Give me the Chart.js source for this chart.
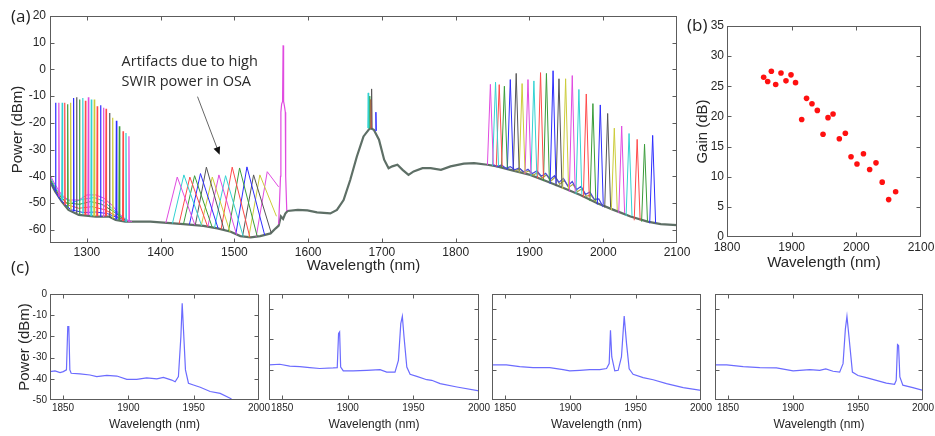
<!DOCTYPE html>
<html>
<head>
<meta charset="utf-8">
<script src="https://cdn.jsdelivr.net/npm/chart.js@4.4.0/dist/chart.umd.min.js"></script>
<style>
  body { margin: 0; background: #fff; width: 935px; height: 436px; overflow: hidden; position: relative; }
  .pane { position: absolute; }
  .tag { position: absolute; font-family: 'Open Sans', sans-serif; font-size: 17px; line-height: 17px; color: #222; }
</style>
</head>
<body>
<div class="pane" style="left:0;top:0;width:690px;height:285px"><canvas id="chartA"></canvas></div>
<div class="pane" style="left:680px;top:0;width:255px;height:280px"><canvas id="chartB"></canvas></div>
<div class="pane" style="left:0;top:280px;width:273px;height:156px"><canvas id="chartC1"></canvas></div>
<div class="pane" style="left:255px;top:280px;width:238px;height:156px"><canvas id="chartC2"></canvas></div>
<div class="pane" style="left:478px;top:280px;width:237px;height:156px"><canvas id="chartC3"></canvas></div>
<div class="pane" style="left:701px;top:280px;width:234px;height:156px"><canvas id="chartC4"></canvas></div>
<div class="tag" style="left:11px;top:7px">(a)</div>
<div class="tag" style="left:687px;top:16px">(b)</div>
<div class="tag" style="left:11px;top:258px">(c)</div>
<script>
  // ── Panel (a) data: wavelength (nm), power (dBm) ─────────────
  const aXTicks = [1300, 1400, 1500, 1600, 1700, 1800, 1900, 2000, 2100];
  const aYTicks = [-60, -50, -40, -30, -20, -10, 0, 10, 20];

  // common background spectrum
  const baseTrace = [[1250,-42],[1257,-45.7],[1266,-49.5],[1275,-52.6],[1289,-54.5],[1312,-55.1],[1330,-55.1],[1339,-56.4],
    [1352,-57],[1373,-57],[1386,-57],[1404,-57.4],[1431,-57.9],[1458,-58.6],[1477,-59.5],[1495,-60.8],[1508,-62.4],[1522,-62.9],
    [1535,-62.4],[1549,-61.4],[1556,-59.5],[1560,-58.5],[1563,-55],[1566,-56],[1569,-54],[1572,-53],[1586,-52.6],[1599,-52.8],
    [1612,-53.5],[1630,-53.9],[1639,-52.6],[1648,-48.9],[1657,-41.4],[1666,-32.6],[1675,-25.1],[1684,-21.9],[1689,-22.6],
    [1696,-26.3],[1703,-33.8],[1709,-37],[1714,-36.3],[1721,-35.7],[1728,-37.6],[1736,-39.5],[1743,-38.2],[1755,-37],[1766,-37],
    [1780,-37.6],[1793,-36.3],[1811,-35.3],[1825,-35.1],[1843,-35.7],[1856,-36.3],[1874,-37.6],[1901,-39.5],[1924,-42],
    [1947,-44.5],[1969,-47],[1992,-50.1],[2014,-52.6],[2037,-55.1],[2060,-57],[2078,-57.9],[2100,-58.3]];
  // spread of traces around 1300 nm
  const bumpTop = [[1250,-39.5],[1257,-43.2],[1266,-47],[1275,-48.9],[1289,-48.9],[1300,-47],[1312,-47],[1323,-48.2],[1334,-50.8],[1343,-53.9],[1354,-56.4],[1361,-57]];
  const bumpHigh = [[1250,-40.2],[1258,-44.5],[1268,-48],[1280,-49.8],[1295,-48.6],[1310,-48],[1322,-49.3],[1333,-51.8],[1345,-54.8],[1358,-57]];
  const bumpMid = [[1250,-41],[1260,-46],[1272,-50],[1290,-50.5],[1305,-49.5],[1320,-50.5],[1335,-53],[1350,-56],[1360,-57]];
  const bumpLow = [[1250,-40.8],[1262,-47],[1275,-50.8],[1289,-52],[1307,-51.4],[1325,-52.6],[1341,-55.1],[1356,-56.8]];
  const bumpFloor = [[1250,-41.5],[1263,-48.5],[1278,-52.5],[1295,-53.6],[1312,-53.4],[1328,-54],[1344,-55.8],[1360,-57]];
  // pump line
  const pumpTrace = [[1560,-58],[1562.5,-40],[1563,-16],[1564,-13],[1565.3,-12],[1566,9],[1566.7,-12],[1568,-14],[1569,-16],[1569.5,-40],[1571,-53]];
  // noisy traces under the signal peaks
  const noiseA = [[1850,-35.5],[1856,-36.5],[1862,-35.8],[1868,-37],[1874,-36.4],[1880,-37.6],[1886,-36.9],[1892,-38.3],[1898,-37.4],
    [1904,-39],[1910,-38],[1916,-40],[1922,-38.9],[1928,-41.2],[1934,-39.8],[1940,-42.3],[1946,-40.8],[1952,-43.6],[1958,-42],
    [1964,-45],[1970,-43.8],[1976,-46.8],[1982,-45.9],[1988,-48.7],[1994,-48.5],[2000,-51.5]];
  const noiseB = [[1880,-38],[1887,-37.2],[1893,-38.8],[1899,-38],[1905,-39.6],[1911,-38.6],[1917,-40.6],[1923,-39.5],[1929,-41.8],
    [1935,-40.3],[1941,-43],[1947,-41.5],[1953,-44.2],[1959,-43],[1965,-45.8],[1971,-44.7],[1977,-47.5],[1983,-47],[1990,-49.5]];

  // short-wave lines (1250–1360 nm)
  const leftNm = [1257.5,1262,1266.5,1270,1274,1278,1282,1286,1290,1294.5,1298,1302,1306,1310,1314,1318.5,1322.5,1326,1330.7,1335,1340,1344,1349,1353,1357];
  const leftDb = [-12.5,-12.5,-12.5,-12.5,-13,-12.5,-10.7,-10.4,-11.3,-10.7,-11.7,-10.4,-11.3,-11.3,-13.8,-13.4,-14.4,-14.7,-16.3,-18.1,-19.2,-21.3,-23.2,-23.8,-25];
  const leftBaseDb = [-45.5,-47.5,-49,-50.5,-51.5,-52.5,-53,-53.5,-54,-54,-54.5,-54.5,-55,-55,-55,-55,-55,-55,-55.2,-55.6,-56.2,-56.5,-56.8,-57,-57];
  const leftColor = ['b','m','c','r','g','y','b','k','g','c','r','m','c','y','r','b','m','r','k','y','b','g','r','c','m'];

  // OSA artifacts (1400–1560 nm)
  const artLeftNm = [1407,1416,1425,1431,1439,1447,1455,1464,1473,1482,1492,1502,1511,1519.5,1529.5];
  const artLeftDb = [-57.5,-57.7,-57.8,-57.9,-58.1,-58.3,-58.5,-58.9,-59.3,-59.8,-60.6,-61.6,-62.5,-62.8,-62.7];
  const artNm = [1422.5,1431.5,1439.6,1446,1454,1462,1470,1479,1488,1497,1507,1517,1526,1534.5,1544.5];
  const artDb = [-40.3,-39.5,-40.3,-39.8,-39,-36.6,-40.3,-39.5,-39.8,-36.6,-36.9,-36.5,-39.5,-39.5,-38.3];
  const artRightNm = [1446.5,1455.5,1463.6,1470,1478,1486,1494,1503,1512,1521,1531,1541,1550,1557,1560];
  const artRightDb = [-58.3,-58.5,-58.8,-59.2,-59.6,-60.1,-60.8,-61.9,-62.6,-62.9,-62.6,-62,-61.3,-55,-44];

  // spikes on the 1680 nm hump
  const ramanNm = [1681.4, 1683.2, 1684.6, 1686, 1691.8];
  const ramanDb = [-8.8, -10, -11.3, -7.3, -16];
  const ramanBaseDb = [-22, -22, -22, -22, -23];
  const ramanColor = ['c', 'g', 'r', 'k', 'b'];

  // SWIR signal lines (1840–2070 nm)
  const rightNm = [1847,1854,1859,1866,1874,1882,1890,1898,1906,1915,1923,1932,1940,1949,1958,1967,1977,1986,1996,2006,2015,2025,2035,2046,2056,2067];
  const rightDb = [-5.6,-4.8,-5.7,-6.3,-3.8,-1.5,-5.3,-3.8,-4.3,-1.2,-1.5,-0.5,-3.5,-3.5,-2.3,-7.5,-9.2,-12.8,-13.3,-16.5,-22,-21.2,-24,-26.2,-28,-24.7];
  const rightBaseDb = [-35.8,-36.1,-36.4,-36.9,-37.5,-38,-38.6,-39.2,-39.9,-40.8,-41.8,-42.8,-43.7,-44.8,-45.8,-46.7,-47.9,-49.3,-50.6,-51.7,-52.7,-53.8,-54.9,-56.5,-57,-57.6];

  // annotation
  const noteText = ['Artifacts due to high', 'SWIR power in OSA'];
  const noteNm = 1347;
  const noteDb = [3, -4.5];
  const arrowNm = [1450, 1480];
  const arrowDb = [-10.2, -32];

  // ── Panel (b) data: gain vs wavelength ──────────────────────
  const bXTicks = [1800, 1900, 2000, 2100];
  const bYTicks = [0, 5, 10, 15, 20, 25, 30, 35];
  const gainNm = [1856.7,1862.9,1868.6,1875.3,1883.5,1891.2,1899,1906,1915.5,1923,1931.4,1939.7,1948.5,1956.2,1964,1973.7,1983,1991.8,2001,2011,2020.6,2030.4,2040,2050,2060.8];
  const gainDb = [26.5,25.8,27.5,25.3,27.2,25.9,26.9,25.6,19.5,23,22.1,21,17.05,19.8,20.4,16.3,17.2,13.3,12.1,13.8,11.2,12.3,9.1,6.2,7.5];

  // ── Panel (c) data: four output spectra ─────────────────────
  const cXTicks = [1850, 1900, 1950, 2000];
  const c1YTicks = [-50, -40, -30, -20, -10, 0];
  const cYTicks = [-40, -30, -20];
  const c1Trace = [[1840,-36.6],[1843.8,-36.3],[1847.7,-37.1],[1850.2,-36.6],[1852.6,-35.8],[1853.6,-15.4],[1854.4,-15.4],[1855.2,-35.8],
    [1856.2,-37.4],[1863,-37.7],[1870.6,-38.2],[1875.8,-39],[1883.5,-38.4],[1891.2,-38.7],[1898.8,-40.3],[1906.4,-40.3],[1914,-39.6],
    [1921.8,-40],[1926.8,-39.3],[1933.2,-40.6],[1935.8,-41.4],[1938.3,-39],[1940.2,-20.1],[1941.2,-4.4],[1942.2,-17],[1943.7,-35.8],
    [1946,-42.1],[1949.8,-42.9],[1955,-44],[1962.6,-46],[1970.3,-46.9],[1977.9,-49.2],[1981,-50.5]];
  const c2Trace = [[1840,-38.4],[1848.2,-38.2],[1855.8,-38.8],[1863.5,-39],[1871,-39.3],[1878.7,-39.6],[1888.9,-39.4],[1892,-39.3],
    [1893,-28],[1893.8,-27.5],[1894.6,-39.1],[1896.6,-40.4],[1904.2,-40.4],[1914.4,-40.2],[1924.6,-40],[1929.7,-40.8],[1936,-40.8],
    [1938.6,-36.9],[1940.4,-24.8],[1941.6,-22.4],[1942.9,-29.3],[1945,-39.1],[1947.5,-41.5],[1952.6,-42.2],[1960.2,-43.3],[1964,-43.5],
    [1970.4,-44.6],[1983.2,-45.7],[2000,-47]];
  const c3Trace = [[1840,-38.4],[1851,-38.4],[1861.2,-39],[1871.4,-39.3],[1884.2,-39.3],[1894.4,-40],[1899.5,-40.4],[1907.2,-40.2],
    [1914.9,-40],[1922.5,-40],[1927.7,-39.6],[1929.7,-38],[1930.7,-27],[1931.7,-35.8],[1934,-40.4],[1936.6,-40.2],[1939.1,-35.8],
    [1941.2,-22.3],[1943,-31.4],[1945,-39.7],[1948,-41.5],[1955.7,-42.6],[1963.4,-43.3],[1973.6,-44.6],[1986.4,-45.9],[2000,-46.8]];
  const c4Trace = [[1840,-38.4],[1849,-38.4],[1861.7,-39],[1874.5,-39.3],[1887.3,-39.4],[1900.1,-40.4],[1912.9,-40],[1920.6,-40.2],
    [1925.2,-39.7],[1930.8,-40.5],[1935.9,-40.8],[1938.5,-38],[1940.3,-26.5],[1941.5,-22.4],[1943.1,-29.3],[1945.7,-40.8],[1950,-41.9],
    [1956.4,-42.6],[1964.1,-43.5],[1971.8,-44.4],[1978.1,-44.8],[1979.4,-43.5],[1980.4,-31.7],[1981.2,-32],[1982.2,-42.4],[1984.5,-45.1],
    [1992.2,-45.9],[2000,-46.8]];

  // ── Styles ───────────────────────────────────────────────────
  const FONT = "'Liberation Sans', Arial, sans-serif";
  const TXT = '#262626';
  const AXIS = '#5c5c5c';
  const COL = { m: '#e04be0', c: '#33d2d2', r: '#ff4a4a', g: '#3a9c3a', b: '#2d2dff', k: '#555555', y: '#cccc3a' };
  const CYCLE = ['m', 'c', 'r', 'g', 'b', 'k', 'y'];
  const LEFT_HW = 0.6, RIGHT_HW = 4, RAMAN_HW = 0.6;

  Chart.defaults.animation = false;
  Chart.defaults.devicePixelRatio = 1;

  const pts = arr => arr.map(([x, y]) => ({ x, y }));
  const spike = (nm, top, base, hw) => [{ x: nm - hw, y: base }, { x: nm, y: top }, { x: nm + hw, y: base }];
  const line = (data, color, w) => ({ data, borderColor: color, borderWidth: w || 1, pointRadius: 0, tension: 0, fill: false });

  // MATLAB-like box with inward ticks on all four sides
  const boxTicks = {
    id: 'boxTicks',
    afterDraw(chart, args, opts) {
      const { ctx, chartArea: a, scales: { x, y } } = chart;
      const len = opts.len || 4;
      const L = Math.round(a.left) + 0.5, R = Math.round(a.right) - 0.5;
      const T = Math.round(a.top) + 0.5, B = Math.round(a.bottom) - 0.5;
      ctx.save();
      ctx.strokeStyle = AXIS; ctx.lineWidth = 1;
      ctx.beginPath();
      x.ticks.forEach(t => {
        const p = Math.round(x.getPixelForValue(t.value)) + 0.5;
        if (p <= L + 1 || p >= R - 1) return;
        ctx.moveTo(p, B); ctx.lineTo(p, B - len);
        ctx.moveTo(p, T); ctx.lineTo(p, T + len);
      });
      y.ticks.forEach(t => {
        const p = Math.round(y.getPixelForValue(t.value)) + 0.5;
        if (p <= T + 1 || p >= B - 1) return;
        ctx.moveTo(L, p); ctx.lineTo(L + len, p);
        ctx.moveTo(R, p); ctx.lineTo(R - len, p);
      });
      ctx.stroke();
      ctx.strokeRect(L, T, R - L, B - T);
      ctx.restore();
    }
  };

  const noteLayer = {
    id: 'noteLayer',
    afterDatasetsDraw(chart) {
      const { ctx, scales: { x, y } } = chart;
      ctx.save();
      ctx.font = "14.5px 'Open Sans', sans-serif";
      ctx.fillStyle = '#2a2a2a'; ctx.textAlign = 'left'; ctx.textBaseline = 'middle';
      noteText.forEach((t, i) => ctx.fillText(t, x.getPixelForValue(noteNm), y.getPixelForValue(noteDb[i])));
      const x0 = x.getPixelForValue(arrowNm[0]), y0 = y.getPixelForValue(arrowDb[0]);
      const x1 = x.getPixelForValue(arrowNm[1]), y1 = y.getPixelForValue(arrowDb[1]);
      const ang = Math.atan2(y1 - y0, x1 - x0);
      ctx.strokeStyle = '#666'; ctx.lineWidth = 1;
      ctx.beginPath(); ctx.moveTo(x0, y0); ctx.lineTo(x1 - 6 * Math.cos(ang), y1 - 6 * Math.sin(ang)); ctx.stroke();
      ctx.fillStyle = '#111';
      ctx.beginPath();
      ctx.moveTo(x1, y1);
      ctx.lineTo(x1 - 8 * Math.cos(ang) + 3.5 * Math.sin(ang), y1 - 8 * Math.sin(ang) - 3.5 * Math.cos(ang));
      ctx.lineTo(x1 - 8 * Math.cos(ang) - 3.5 * Math.sin(ang), y1 - 8 * Math.sin(ang) + 3.5 * Math.cos(ang));
      ctx.closePath(); ctx.fill();
      ctx.restore();
    }
  };

  function xAxis(min, max, ticks, o) {
    return {
      type: 'linear', min, max,
      grid: { display: false, drawTicks: false }, border: { display: false },
      afterBuildTicks: s => { s.ticks = ticks.map(v => ({ value: v })); },
      afterFit: s => { s.height = o.h; s.paddingLeft = 0; s.paddingRight = 0; },
      ticks: { display: o.labels !== false, autoSkip: false, maxRotation: 0, padding: o.pad, color: TXT,
               font: { family: FONT, size: o.size }, callback: v => String(v) },
      title: { display: true, text: 'Wavelength (nm)', color: TXT, font: { family: FONT, size: o.tsize },
               padding: { top: 0, bottom: o.tpad } }
    };
  }
  function yAxis(min, max, ticks, o) {
    return {
      type: 'linear', min, max,
      grid: { display: false, drawTicks: false }, border: { display: false },
      afterBuildTicks: s => { s.ticks = ticks.map(v => ({ value: v })); },
      afterFit: s => { s.width = o.w; s.paddingTop = 0; s.paddingBottom = 0; },
      ticks: { display: o.labels !== false, autoSkip: false, padding: o.pad, color: TXT,
               font: { family: FONT, size: o.size }, callback: v => String(v) },
      title: { display: !!o.title, text: o.title || '', color: TXT, font: { family: FONT, size: o.tsize },
               padding: { top: o.tpad, bottom: 0 } }
    };
  }
  const baseOpts = (padding) => ({
    responsive: true, maintainAspectRatio: false, animation: false,
    layout: { padding },
    plugins: { legend: { display: false }, tooltip: { enabled: false }, boxTicks: { len: 4 } }
  });

  // ── Chart (a) ────────────────────────────────────────────────
  const dsA = [];
  dsA.push(line(pts(pumpTrace), COL.m, 1.2));
  ramanNm.forEach((nm, i) => dsA.push(line(spike(nm, ramanDb[i], ramanBaseDb[i], RAMAN_HW), COL[ramanColor[i]])));
  rightNm.forEach((nm, i) => dsA.push(line(spike(nm, rightDb[i], rightBaseDb[i], RIGHT_HW), COL[CYCLE[i % 7]])));
  leftNm.forEach((nm, i) => dsA.push(line(spike(nm, leftDb[i], leftBaseDb[i], LEFT_HW), COL[leftColor[i]], 1.2)));
  artNm.forEach((nm, i) => dsA.push(line([{ x: artLeftNm[i], y: artLeftDb[i] }, { x: nm, y: artDb[i] },
                                           { x: artRightNm[i], y: artRightDb[i] }], COL[CYCLE[i % 7]])));
  dsA.push(line(pts(noiseA), '#4a4ad8', 1.2));
  dsA.push(line(pts(noiseB), '#a8a840', 1.2));
  dsA.push(line(pts(bumpTop), COL.m, 1));
  dsA.push(line(pts(bumpHigh), COL.c, 1));
  dsA.push(line(pts(bumpMid), COL.g, 1));
  dsA.push(line(pts(bumpLow), COL.r, 1));
  dsA.push(line(pts(bumpFloor), COL.b, 1));
  dsA.push(line(pts(baseTrace), '#5e6f66', 2.2));

  new Chart(document.getElementById('chartA'), {
    type: 'line',
    data: { datasets: dsA },
    options: Object.assign(baseOpts({ top: 16, right: 13, left: 0, bottom: 0 }), {
      scales: {
        x: xAxis(1250, 2100, aXTicks, { h: 42, pad: 2, size: 12, tsize: 15, tpad: 10 }),
        y: yAxis(-65, 20, aYTicks, { w: 50, pad: 4, size: 12, title: 'Power (dBm)', tsize: 15, tpad: 9 })
      }
    }),
    plugins: [boxTicks, noteLayer]
  });

  // ── Chart (b) ────────────────────────────────────────────────
  new Chart(document.getElementById('chartB'), {
    type: 'scatter',
    data: { datasets: [{ data: gainNm.map((x, i) => ({ x, y: gainDb[i] })), backgroundColor: '#ff1010',
                         borderWidth: 0, pointRadius: 2.8 }] },
    options: Object.assign(baseOpts({ top: 26, right: 14, left: 0, bottom: 0 }), {
      scales: {
        x: xAxis(1800, 2100, bXTicks, { h: 43, pad: 3, size: 12, tsize: 15, tpad: 8 }),
        y: yAxis(0, 35, bYTicks, { w: 47, pad: 3, size: 12, title: 'Gain (dB)', tsize: 15, tpad: 14 })
      }
    }),
    plugins: [boxTicks]
  });

  // ── Charts (c) ───────────────────────────────────────────────
  function spectrum(id, trace, yMin, yMax, yTicks, yw, right, first) {
    new Chart(document.getElementById(id), {
      type: 'line',
      data: { datasets: [line(pts(trace), '#6b6bff', 1.2)] },
      options: Object.assign(baseOpts({ top: 14, right, left: 0, bottom: 0 }), {
        scales: {
          x: xAxis(1840, 2000, cXTicks, { h: 36, pad: 2, size: 10, tsize: 12, tpad: 4 }),
          y: yAxis(yMin, yMax, yTicks, first
              ? { w: yw, pad: 3, size: 10, title: 'Power (dBm)', tsize: 15, tpad: 16 }
              : { w: yw, pad: 3, size: 10, labels: false })
        }
      }),
      plugins: [boxTicks]
    });
  }
  spectrum('chartC1', c1Trace, -50, 0, c1YTicks, 50, 14, true);
  spectrum('chartC2', c2Trace, -50, -15, cYTicks, 14, 14, false);
  spectrum('chartC3', c3Trace, -50, -15, cYTicks, 14, 14, false);
  spectrum('chartC4', c4Trace, -50, -15, cYTicks, 14, 12, false);
</script>
</body>
</html>
